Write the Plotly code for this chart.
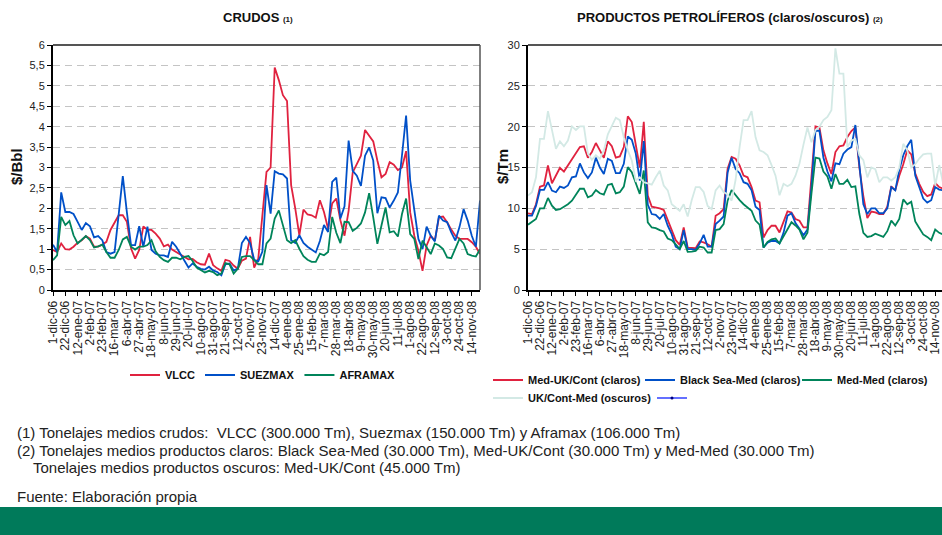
import plotly.graph_objects as go

# ---------------- data ----------------
tick_labels = ["1-dic-06", "22-dic-06", "12-ene-07", "2-feb-07", "23-feb-07", "16-mar-07",
               "6-abr-07", "27-abr-07", "18-may-07", "8-jun-07", "29-jun-07", "20-jul-07",
               "10-ago-07", "31-ago-07", "21-sep-07", "12-oct-07", "2-nov-07", "23-nov-07",
               "14-dic-07", "4-ene-08", "25-ene-08", "15-feb-08", "7-mar-08", "28-mar-08",
               "18-abr-08", "9-may-08", "30-may-08", "20-jun-08", "11-jul-08", "1-ago-08",
               "22-ago-08", "12-sep-08", "3-oct-08", "24-oct-08", "14-nov-08"]

# weekly observations (week index 0 = 1-dic-06)
vlcc = [0.98, 0.93, 1.14, 1.00, 0.99, 1.06, 1.16, 1.22, 1.32, 1.26,
        1.06, 1.06, 1.11, 1.18, 1.47, 1.67, 1.83, 1.83, 1.67, 1.02,
        0.77, 0.98, 1.56, 1.47, 1.47, 1.38, 1.26, 1.07, 1.11, 0.99,
        0.93, 0.89, 0.81, 0.75, 0.76, 0.68, 0.63, 0.62, 0.89, 0.61,
        0.53, 0.47, 0.74, 0.71, 0.60, 0.52, 0.72, 0.77, 1.30, 0.55,
        0.77, 1.83, 2.89, 3.00, 5.45, 5.14, 4.77, 4.63, 2.57, 2.00,
        1.34, 1.97, 1.85, 1.83, 1.77, 2.20, 1.91, 1.50, 2.12, 2.24,
        1.71, 1.33, 1.94, 2.88, 3.09, 3.29, 3.92, 3.78, 3.64, 3.17,
        2.76, 2.84, 3.13, 3.07, 2.94, 3.00, 3.40, 1.90, 1.33, 0.96,
        0.47, 1.09, 1.33, 1.21, 1.78, 1.80, 1.66, 1.48, 1.33, 1.25,
        1.25, 1.25, 1.17, 1.06, 0.88]
suezmax = [1.11, 0.93, 2.39, 1.91, 1.91, 1.86, 1.67, 1.47, 1.64, 1.56,
           1.29, 1.32, 1.22, 0.93, 0.89, 0.93, 1.85, 2.79, 1.90, 1.10,
           1.10, 1.56, 1.06, 1.55, 0.98, 0.89, 0.85, 0.85, 0.81, 1.18,
           1.06, 0.89, 0.73, 0.55, 0.65, 0.57, 0.52, 0.50, 0.57, 0.48,
           0.44, 0.36, 0.63, 0.65, 0.48, 0.52, 1.15, 1.30, 1.15, 0.74,
           0.70, 0.94, 2.57, 1.87, 2.91, 2.85, 2.83, 2.73, 1.22, 1.15,
           1.34, 1.15, 1.06, 0.99, 0.92, 1.20, 1.59, 1.42, 2.65, 2.75,
           1.75, 2.05, 3.66, 2.92, 2.80, 2.55, 3.29, 3.49, 3.17, 1.88,
           2.27, 2.25, 2.02, 2.19, 2.39, 3.30, 4.27, 2.68, 1.94, 1.25,
           1.00, 1.55, 1.33, 1.19, 1.82, 1.70, 1.66, 1.41, 1.21, 1.54,
           1.98, 1.70, 1.33, 1.06, 2.19]
aframax = [0.73, 0.85, 1.79, 1.59, 1.69, 1.34, 1.14, 1.22, 1.32, 1.22,
           1.04, 1.07, 1.11, 0.93, 0.79, 0.79, 0.98, 1.24, 1.30, 1.06,
           0.99, 1.06, 1.06, 1.10, 1.22, 0.95, 0.81, 0.73, 0.69, 0.79,
           0.79, 0.75, 0.81, 0.83, 0.71, 0.55, 0.48, 0.43, 0.47, 0.44,
           0.36, 0.40, 0.66, 0.63, 0.40, 0.52, 0.81, 0.83, 0.83, 0.73,
           0.63, 0.63, 1.14, 1.26, 1.75, 1.95, 1.59, 1.22, 1.15, 1.22,
           1.01, 0.83, 0.74, 0.69, 0.69, 0.89, 0.85, 0.93, 1.79, 1.40,
           1.15, 1.67, 1.66, 1.45, 1.52, 1.63, 1.90, 2.37, 1.78, 1.13,
           1.58, 2.02, 1.41, 1.44, 1.31, 1.86, 2.24, 1.37, 1.25, 0.76,
           1.21, 1.04, 0.88, 1.14, 1.09, 1.00, 0.80, 0.78, 1.00, 1.25,
           1.14, 0.88, 0.84, 0.82, 1.00]

med_uk_cont = [9.38, 9.30, 10.5, 12.66, 12.8, 15.25, 13.07, 14.0, 14.96, 14.5,
               15.25, 16.07, 16.9, 17.5, 17.6, 16.2, 16.9, 18.0, 17.1, 16.2,
               18.2, 17.6, 16.2, 16.35, 17.5, 21.27, 20.57, 17.8, 15.0, 20.6,
               11.56, 10.2, 10.1, 10.0, 9.8, 8.5, 7.25, 6.1, 5.53, 7.66,
               5.2, 5.2, 5.12, 5.94, 5.82, 5.6, 5.3, 9.1, 9.4, 9.9,
               14.84, 16.3, 16.07, 15.25, 14.0, 13.8, 12.6, 10.94, 10.74, 6.43,
               7.34, 7.87, 7.87, 7.05, 8.28, 9.63, 9.5, 8.7, 8.48, 7.66,
               7.66, 13.6, 20.04, 19.9, 17.1, 15.5, 14.2, 16.9, 17.6, 17.7,
               18.73, 19.47, 19.9, 15.0, 11.5, 8.8, 9.6, 9.5, 9.3, 9.3,
               10.2, 12.7, 12.2, 14.0, 15.4, 17.1, 16.6, 14.3, 13.0, 12.0,
               11.5, 11.7, 13.1, 12.6, 12.4]
black_sea_med = [9.1, 9.1, 10.3, 12.25, 12.25, 13.2, 12.17, 11.97, 12.66, 12.5,
                 12.8, 13.8, 13.9, 15.5, 14.4, 13.7, 14.4, 16.2, 15.0, 14.2,
                 16.07, 15.8, 14.3, 14.3, 15.45, 18.8, 18.4, 16.7, 13.4, 18.24,
                 10.45, 9.3, 9.2, 8.7, 9.3, 7.87, 6.84, 5.3, 5.0, 7.34,
                 5.0, 5.0, 4.9, 5.7, 6.76, 5.3, 5.3, 8.07, 8.5, 9.0,
                 14.4, 16.2, 14.8, 14.3, 13.2, 13.0, 12.2, 10.2, 9.8, 5.2,
                 5.8, 6.0, 6.0, 5.7, 7.0, 9.1, 9.4, 8.2, 7.5, 6.7,
                 7.4, 12.6, 19.5, 19.5, 16.2, 14.5, 13.3, 15.5, 15.4, 16.7,
                 17.2, 17.5, 20.2, 15.0, 10.5, 9.3, 10.0, 10.0, 9.4, 9.4,
                 10.0, 12.6, 12.2, 14.7, 16.5, 17.6, 18.4, 14.0, 12.7, 11.2,
                 10.7, 11.0, 12.6, 12.3, 12.2]
med_med = [8.0, 8.4, 8.7, 10.0, 10.0, 11.27, 10.33, 9.8, 9.9, 10.2,
           10.5, 10.94, 11.7, 12.4, 12.4, 11.35, 11.56, 12.25, 11.84, 11.68,
           12.87, 13.0, 11.84, 11.97, 12.66, 15.04, 14.43, 13.2, 11.76, 14.63,
           8.28, 7.66, 7.58, 7.34, 7.17, 6.31, 6.1, 5.6, 5.0, 6.0,
           4.67, 4.71, 4.8, 5.3, 5.2, 4.59, 4.59, 7.34, 7.46, 8.07,
           10.94, 12.25, 11.56, 11.0, 10.5, 10.1, 9.7, 8.5, 8.0, 5.2,
           5.9, 6.2, 6.3, 5.7, 6.6, 7.4, 8.3, 7.9, 7.4, 6.2,
           7.0, 11.8, 16.2, 16.1, 14.5, 13.9, 12.4, 14.2, 13.0, 13.0,
           13.5, 12.6, 12.7, 9.3, 7.0, 6.5, 6.6, 6.9, 6.7, 6.5,
           7.2, 8.5, 7.9, 8.7, 11.1, 10.5, 10.8, 8.4, 7.6, 6.8,
           6.5, 6.1, 7.4, 7.0, 6.8]
uk_cont_med = [11.56, 11.97, 13.8, 18.5, 18.5, 21.9, 19.6, 17.3, 18.2, 17.6,
               18.3, 20.04, 19.6, 20.04, 20.04, 16.7, 15.94, 16.5, 16.07, 17.1,
               19.06, 20.16, 21.1, 20.8, 18.7, 17.1, 15.86, 13.4, 13.8, 13.2,
               13.0, 12.9, 13.8, 14.6, 12.8, 12.2, 10.5, 10.1, 9.7, 10.5,
               9.0, 11.0, 12.6, 12.6, 12.0, 10.3, 9.9, 12.2, 12.8, 12.0,
               11.7, 10.94, 13.5, 17.5, 20.8, 20.8, 21.9, 18.7, 17.1, 16.9,
               16.5, 15.3, 14.0, 11.6, 13.0, 12.7, 13.0, 14.0, 15.5, 17.8,
               19.9, 18.1, 19.6, 20.0, 20.8, 21.2, 22.0, 29.6, 26.5, 26.5,
               17.5, 18.3, 18.5, 16.5, 15.9, 13.8, 15.0, 14.8, 13.2, 13.8,
               13.8, 13.4, 13.8, 15.0, 17.9, 17.1, 15.0, 15.4, 16.1, 16.6,
               16.7, 16.7, 12.8, 15.3, 13.0]

left_yticks = [0, 0.5, 1, 1.5, 2, 2.5, 3, 3.5, 4, 4.5, 5, 5.5, 6]
left_ytext = ["0", "0,5", "1", "1,5", "2", "2,5", "3", "3,5", "4", "4,5", "5", "5,5", "6"]
right_yticks = [0, 5, 10, 15, 20, 25, 30]

# ---------------- styling ----------------
W, H = 942, 535
FONT = "Liberation Sans, Arial, sans-serif"
RED, BLUE, GREEN, PALE = "#e0223f", "#0050c8", "#00845a", "#d3e9e5"
weeks = list(range(len(vlcc)))
tickpos = list(range(0, 3 * len(tick_labels), 3))


def px_x(p):  # page pixel -> paper fraction
    return p / W


def px_y(p):
    return 1 - p / H


fig = go.Figure()

left = [("VLCC", vlcc, RED), ("SUEZMAX", suezmax, BLUE), ("AFRAMAX", aframax, GREEN)]
for name, vals, col in left:
    fig.add_trace(go.Scatter(x=weeks, y=vals, name="<b>%s</b>" % name, mode="lines",
                             line=dict(color=col, width=1.8), xaxis="x", yaxis="y",
                             legend="legend"))

# right-hand series, each with its own legend box placed like the reference
right = [("Med-UK/Cont (claros)", med_uk_cont, RED, "legend2"),
         ("Black Sea-Med (claros)", black_sea_med, BLUE, "legend3"),
         ("Med-Med (claros)", med_med, GREEN, "legend4"),
         ("UK/Cont-Med (oscuros)", uk_cont_med, PALE, "legend5")]
for name, vals, col, lg in right:
    fig.add_trace(go.Scatter(x=weeks, y=vals, name="<b>%s</b>" % name, mode="lines",
                             line=dict(color=col, width=1.8), xaxis="x2", yaxis="y2",
                             legend=lg))
fig.add_trace(go.Scatter(x=[None], y=[None], name=" ", mode="lines+markers",
                         line=dict(color="#3040ff", width=1.5),
                         marker=dict(size=3, color="#000080"),
                         xaxis="x2", yaxis="y2", legend="legend6"))

axis_common = dict(showline=True, linecolor="#000", linewidth=2, ticks="outside",
                   ticklen=4, tickcolor="#000", tickwidth=1, zeroline=False,
                   automargin=False)
xfont = dict(family=FONT, size=12, color="#222")
yfont = dict(family=FONT, size=11, color="#222")
ydom = [px_y(290), px_y(45)]


def leg(xpx, ypx, anchor="left"):
    return dict(orientation="h", x=px_x(xpx), xanchor=anchor, y=px_y(ypx), yanchor="middle",
                font=dict(family=FONT, size=11, color="#111"), bgcolor="rgba(0,0,0,0)",
                itemwidth=30, borderwidth=0)


fig.update_layout(
    width=W, height=H, margin=dict(l=0, r=0, t=0, b=0, pad=0, autoexpand=False),
    paper_bgcolor="white", plot_bgcolor="white",
    font=dict(family=FONT, color="#111"),
    xaxis=dict(domain=[px_x(53), px_x(480)], range=[0, 104], tickvals=tickpos,
               ticktext=tick_labels, tickangle=-90, showgrid=False, tickfont=xfont,
               ticklabeloverflow="allow", **axis_common),
    yaxis=dict(domain=ydom, range=[0, 6], tickvals=left_yticks, ticktext=left_ytext,
               showgrid=True, gridcolor="#c4c4c4", gridwidth=1.2, griddash="7px,5px",
               tickfont=yfont, **axis_common),
    xaxis2=dict(domain=[px_x(528), 1.0], range=[0, 103.7], tickvals=tickpos,
                ticktext=tick_labels, tickangle=-90, showgrid=False, anchor="y2",
                tickfont=xfont, ticklabeloverflow="allow", **axis_common),
    yaxis2=dict(domain=ydom, range=[0, 30], tickvals=right_yticks, anchor="x2",
                showgrid=True, gridcolor="#c4c4c4", gridwidth=1.2, griddash="7px,5px",
                tickfont=yfont, **axis_common),
    legend=leg(263, 375, "center"),
    legend2=leg(488, 380),
    legend3=leg(640, 380),
    legend4=leg(797, 380),
    legend5=leg(488, 398),
    legend6=leg(652, 398),
)

# plot frame top / right borders (dark grey)
for xr, yr in (("x", "y"), ("x2", "y2")):
    fig.add_shape(type="line", xref=xr + " domain", yref=yr + " domain", x0=0, x1=1, y0=1, y1=1,
                  line=dict(color="#555", width=2))
fig.add_shape(type="line", xref="x domain", yref="y domain", x0=1, x1=1, y0=0, y1=1,
              line=dict(color="#555", width=1.5))

# green footer band
fig.add_shape(type="rect", xref="paper", yref="paper", x0=0, x1=1, y0=0, y1=px_y(507),
              fillcolor="#007a5a", line=dict(width=0), layer="below")


def text(xpx, ypx, t, size, xanchor="center", angle=0, color="#111"):
    fig.add_annotation(x=px_x(xpx), y=px_y(ypx), xref="paper", yref="paper", showarrow=False,
                       xanchor=xanchor, yanchor="middle", text=t, textangle=angle,
                       font=dict(family=FONT, size=size, color=color))


# titles
text(258, 17, "<b>CRUDOS <span style='font-size:8px'>(1)</span></b>", 13)
text(730, 17, "<b>PRODUCTOS PETROLÍFEROS (claros/oscuros) <span style='font-size:8px'>(2)</span></b>", 13)
text(17, 167, "<b>$/Bbl</b>", 15, angle=-90)
text(503, 167, "<b>$/Tm</b>", 15, angle=-90)

# notes
notes = [(15, 432, "(1) Tonelajes medios crudos:  VLCC (300.000 Tm), Suezmax (150.000 Tm) y Aframax (106.000 Tm)"),
         (15, 450, "(2) Tonelajes medios productos claros: Black Sea-Med (30.000 Tm), Med-UK/Cont (30.000 Tm) y Med-Med (30.000 Tm)"),
         (31, 467, "Tonelajes medios productos oscuros: Med-UK/Cont (45.000 Tm)"),
         (15, 496, "Fuente: Elaboración propia")]
for x, y, t in notes:
    text(x, y, t, 15, xanchor="left", color="#222")

fig.write_html("out.html", config={"displayModeBar": False},
               post_script="document.body.style.margin='0px';")
